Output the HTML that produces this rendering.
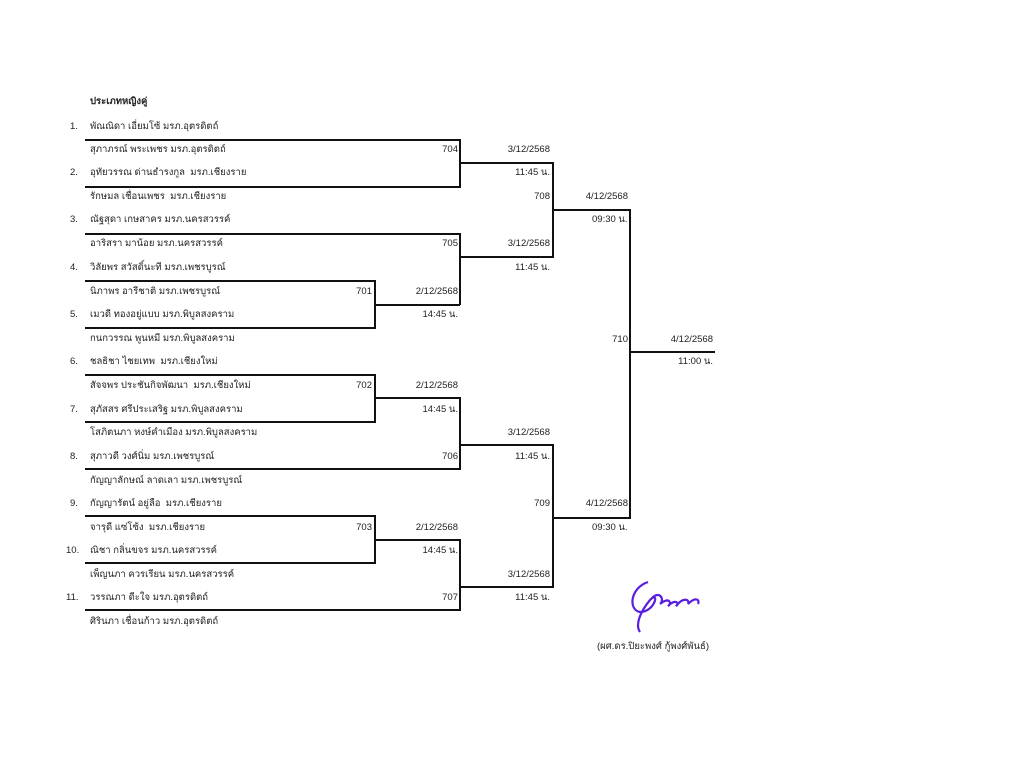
<!DOCTYPE html>
<html><head><meta charset="utf-8"><style>
body{margin:0;width:1024px;height:757px;background:#fff;position:relative;overflow:hidden;font-family:"Liberation Sans","Noto Sans CJK SC",sans-serif;font-size:9.5px;color:#222}
.t{position:absolute;white-space:nowrap;line-height:12px}
.r{position:absolute;white-space:nowrap;line-height:12px;text-align:right;width:80px}
svg{position:absolute;left:0;top:0}
</style></head><body>
<svg width="1024" height="757"><g stroke="#111" stroke-width="2" fill="none">
<polyline points="85,140 460,140 460,187 85,187"/>
<polyline points="460,163 553,163 553,257 460,257"/>
<polyline points="553,210 630,210 630,518 553,518"/>
<line x1="630" y1="352" x2="715" y2="352"/>
<polyline points="85,234 460,234 460,305"/>
<polyline points="85,281 375,281 375,328 85,328"/>
<line x1="375" y1="305" x2="460" y2="305"/>
<polyline points="85,375 375,375 375,422 85,422"/>
<polyline points="375,398 460,398 460,469 85,469"/>
<polyline points="460,445 553,445 553,587 460,587"/>
<polyline points="85,516 375,516 375,563 85,563"/>
<polyline points="375,540 460,540 460,610 85,610"/>
</g>
<path d="M648,582 C630,588 628,610 640,612 C655,612 660,590 650,600 C640,612 635,625 640,632 M652,598 C660,590 665,600 660,604 C670,596 672,604 668,606 C676,598 680,604 676,606 C684,596 690,600 688,604 C696,596 700,600 698,604" stroke="#5a1ee0" stroke-width="2.2" fill="none"/>
</svg>
<div class="t" style="left:90px;top:96px;font-weight:bold">ประเภทหญิงคู่</div>
<div class="t" style="left:70px;top:121px">1.</div><div class="t" style="left:90px;top:121px">พัณณิดา เอี่ยมโซ้ มรภ.อุตรดิตถ์</div>
<div class="t" style="left:90px;top:144px">สุภาภรณ์ พระเพชร มรภ.อุตรดิตถ์</div>
<div class="t" style="left:70px;top:167px">2.</div><div class="t" style="left:90px;top:167px">อุทัยวรรณ ด่านธำรงกูล &nbsp;มรภ.เชียงราย</div>
<div class="t" style="left:90px;top:191px">รักษมล เชื่อนเพชร &nbsp;มรภ.เชียงราย</div>
<div class="t" style="left:70px;top:214px">3.</div><div class="t" style="left:90px;top:214px">ณัฐสุดา เกษสาคร มรภ.นครสวรรค์</div>
<div class="t" style="left:90px;top:238px">อาริสรา มาน้อย มรภ.นครสวรรค์</div>
<div class="t" style="left:70px;top:262px">4.</div><div class="t" style="left:90px;top:262px">วิลัยพร สวัสดิ์นะที มรภ.เพชรบูรณ์</div>
<div class="t" style="left:90px;top:286px">นิภาพร อารีชาติ มรภ.เพชรบูรณ์</div>
<div class="t" style="left:70px;top:309px">5.</div><div class="t" style="left:90px;top:309px">เมวดี ทองอยู่แบบ มรภ.พิบูลสงคราม</div>
<div class="t" style="left:90px;top:333px">กนกวรรณ พูนหมี มรภ.พิบูลสงคราม</div>
<div class="t" style="left:70px;top:356px">6.</div><div class="t" style="left:90px;top:356px">ชลธิชา ไชยเทพ &nbsp;มรภ.เชียงใหม่</div>
<div class="t" style="left:90px;top:380px">สัจจพร ประชันกิจพัฒนา &nbsp;มรภ.เชียงใหม่</div>
<div class="t" style="left:70px;top:404px">7.</div><div class="t" style="left:90px;top:404px">สุภัสสร ศรีประเสริฐ มรภ.พิบูลสงคราม</div>
<div class="t" style="left:90px;top:427px">โสภิตนภา หงษ์คำเมือง มรภ.พิบูลสงคราม</div>
<div class="t" style="left:70px;top:451px">8.</div><div class="t" style="left:90px;top:451px">สุภาวดี วงศ์นิ่ม มรภ.เพชรบูรณ์</div>
<div class="t" style="left:90px;top:475px">กัญญาลักษณ์ ลาดเลา มรภ.เพชรบูรณ์</div>
<div class="t" style="left:70px;top:498px">9.</div><div class="t" style="left:90px;top:498px">กัญญารัตน์ อยู่ลือ &nbsp;มรภ.เชียงราย</div>
<div class="t" style="left:90px;top:522px">จารุดี แซ่โซ้ง &nbsp;มรภ.เชียงราย</div>
<div class="t" style="left:66px;top:545px">10.</div><div class="t" style="left:90px;top:545px">ณิชา กลิ่นขจร มรภ.นครสวรรค์</div>
<div class="t" style="left:90px;top:569px">เพ็ญนภา ควรเรียน มรภ.นครสวรรค์</div>
<div class="t" style="left:66px;top:592px">11.</div><div class="t" style="left:90px;top:592px">วรรณภา ดีะใจ มรภ.อุตรดิตถ์</div>
<div class="t" style="left:90px;top:616px">ศิรินภา เชื่อนก้าว มรภ.อุตรดิตถ์</div>

<div class="r" style="left:378px;top:144px">704</div>
<div class="r" style="left:470px;top:144px">3/12/2568</div>
<div class="r" style="left:470px;top:167px">11:45 น.</div>
<div class="r" style="left:470px;top:191px">708</div>
<div class="r" style="left:548px;top:191px">4/12/2568</div>
<div class="t" style="left:592px;top:214px">09:30 น.</div>
<div class="r" style="left:378px;top:238px">705</div>
<div class="r" style="left:470px;top:238px">3/12/2568</div>
<div class="r" style="left:470px;top:262px">11:45 น.</div>
<div class="r" style="left:292px;top:286px">701</div>
<div class="r" style="left:378px;top:286px">2/12/2568</div>
<div class="r" style="left:378px;top:309px">14:45 น.</div>
<div class="r" style="left:548px;top:334px">710</div>
<div class="r" style="left:633px;top:334px">4/12/2568</div>
<div class="r" style="left:633px;top:356px">11:00 น.</div>
<div class="r" style="left:292px;top:380px">702</div>
<div class="r" style="left:378px;top:380px">2/12/2568</div>
<div class="r" style="left:378px;top:404px">14:45 น.</div>
<div class="r" style="left:470px;top:427px">3/12/2568</div>
<div class="r" style="left:378px;top:451px">706</div>
<div class="r" style="left:470px;top:451px">11:45 น.</div>
<div class="r" style="left:470px;top:498px">709</div>
<div class="r" style="left:548px;top:498px">4/12/2568</div>
<div class="t" style="left:592px;top:522px">09:30 น.</div>
<div class="r" style="left:292px;top:522px">703</div>
<div class="r" style="left:378px;top:522px">2/12/2568</div>
<div class="r" style="left:378px;top:545px">14:45 น.</div>
<div class="r" style="left:470px;top:569px">3/12/2568</div>
<div class="r" style="left:378px;top:592px">707</div>
<div class="r" style="left:470px;top:592px">11:45 น.</div>
<div class="t" style="left:597px;top:641px">(ผศ.ดร.ปิยะพงศ์ กู้พงศ์พันธ์)</div>
</body></html>
